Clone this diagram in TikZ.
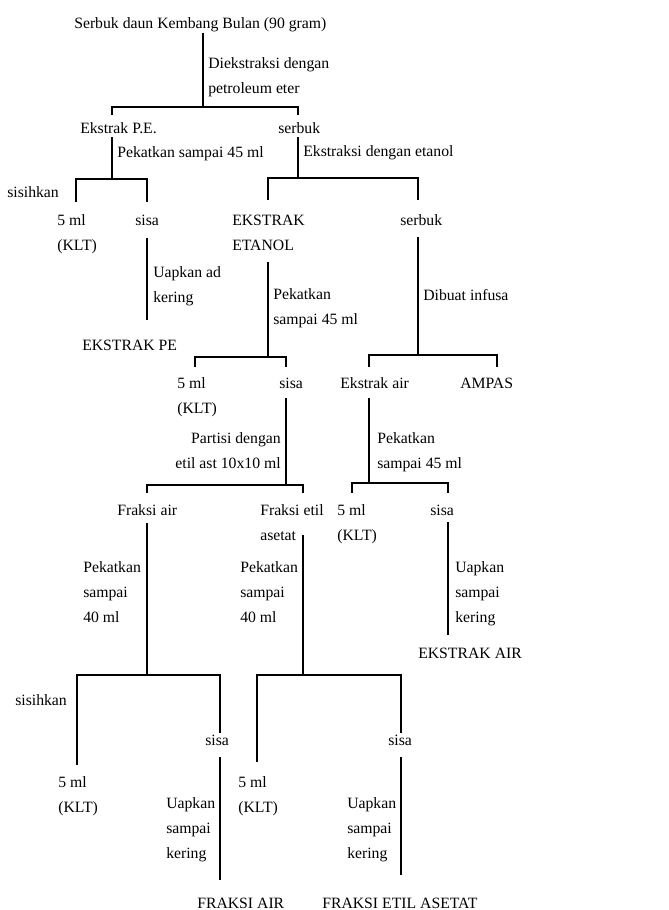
\documentclass[tikz,border=0pt]{standalone}
\usepackage{fontspec}
\setmainfont{Liberation Serif}
\tikzstyle{txt}=[inner sep=0pt, anchor=base west, align=left, font=\fontsize{11.8}{18.6}\selectfont]
\tikzstyle{txtr}=[txt, anchor=base east, align=right]
\tikzstyle{branch}=[line width=1pt]
\begin{document}
\begin{tikzpicture}[x=0.75pt, y=-0.75pt]
    \useasboundingbox (0,0) rectangle (668,910);

    % labels, top to bottom (multi-line ones sit on their last line)
    \node[txt] (title) at (74,28) {Serbuk daun Kembang Bulan (90 gram)};
    \node[txt] (ek1) at (208,93) {Diekstraksi dengan\\petroleum eter};
    \node[txt] (pe) at (80,133) {Ekstrak P.E.};
    \node[txt] (sb1) at (278,133) {serbuk};
    \node[txt] (pk1) at (117,157) {Pekatkan sampai 45 ml};
    \node[txt] (ek2) at (303,156) {Ekstraksi dengan etanol};
    \node[txt] (sh1) at (7,197) {sisihkan};
    \node[txt] (klt1) at (57,250) {5 ml\\(KLT)};
    \node[txt] (sisa1) at (135,225) {sisa};
    \node[txt] (et) at (232,250) {EKSTRAK\\ETANOL};
    \node[txt] (sb2) at (400,225) {serbuk};
    \node[txt] (up1) at (153,302) {Uapkan ad\\kering};
    \node[txt] (ekpe) at (82,350) {EKSTRAK PE};
    \node[txt] (pk2) at (273,324) {Pekatkan\\sampai 45 ml};
    \node[txt] (inf) at (423,300) {Dibuat infusa};
    \node[txt] (klt2) at (177,413) {5 ml\\(KLT)};
    \node[txt] (sisa2) at (279,388) {sisa};
    \node[txt] (air) at (340,388) {Ekstrak air};
    \node[txt] (ampas) at (460,388) {AMPAS};
    \node[txtr] (part) at (281,468) {Partisi dengan\\etil ast 10x10 ml};
    \node[txt] (pk3) at (377,468) {Pekatkan\\sampai 45 ml};
    \node[txt] (fair) at (117,515) {Fraksi air};
    \node[txt] (fet) at (260,540) {Fraksi etil\\asetat};
    \node[txt] (klt3) at (337,540) {5 ml\\(KLT)};
    \node[txt] (sisa3) at (430,515) {sisa};
    \node[txt] (pk4) at (83,622) {Pekatkan\\sampai\\40 ml};
    \node[txt] (pk5) at (240,622) {Pekatkan\\sampai\\40 ml};
    \node[txt] (up2) at (455,622) {Uapkan\\sampai\\kering};
    \node[txt] (ekair) at (418,658) {EKSTRAK AIR};
    \node[txt] (sh2) at (15,705) {sisihkan};
    \node[txt] (sisa4) at (205,745) {sisa};
    \node[txt] (sisa5) at (388,745) {sisa};
    \node[txt] (klt4) at (58,812) {5 ml\\(KLT)};
    \node[txt] (klt5) at (238,812) {5 ml\\(KLT)};
    \node[txt] (up3) at (166,858) {Uapkan\\sampai\\kering};
    \node[txt] (up4) at (347,858) {Uapkan\\sampai\\kering};
    \node[txt] (fa) at (197,908) {FRAKSI AIR};
    \node[txt] (fea) at (322,908) {FRAKSI ETIL ASETAT};

    % splits: stem, bar and the two ticks, using a loop
    \foreach \n/\sx/\sy/\jy/\lx/\ly/\rx/\ry in {0/203/33/107/112/115/298/115,
      1/112/137/179/76/202/147/202, 2/298/137/178/268/200/418/200,
      3/268/262/357/195/367/286/367, 4/418/237/355/369/367/497/367,
      5/286/398/485/147/493/303/493, 6/369/398/483/352/493/448/493,
      7/147/523/675/77/765/220/733, 8/303/535/675/257/762/401/733}{
      \coordinate (s\n) at (\sx,\sy);
      \coordinate (j\n) at (\sx,\jy);
      \coordinate (l\n) at (\lx,\ly);
      \coordinate (r\n) at (\rx,\ry);
      \draw[branch] (s\n) -- (j\n) (l\n) |- (j\n) -| (r\n);
    }
    % single stems down to the dried extracts
    \foreach \n/\x/\ya/\yb in {1/147/238/320, 2/448/522/635, 3/220/757/880, 4/401/757/875}{
      \coordinate (ua\n) at (\x,\ya);
      \coordinate (ub\n) at (\x,\yb);
      \draw[branch] (ua\n) -- (ub\n);
    }
\end{tikzpicture}
\end{document}
